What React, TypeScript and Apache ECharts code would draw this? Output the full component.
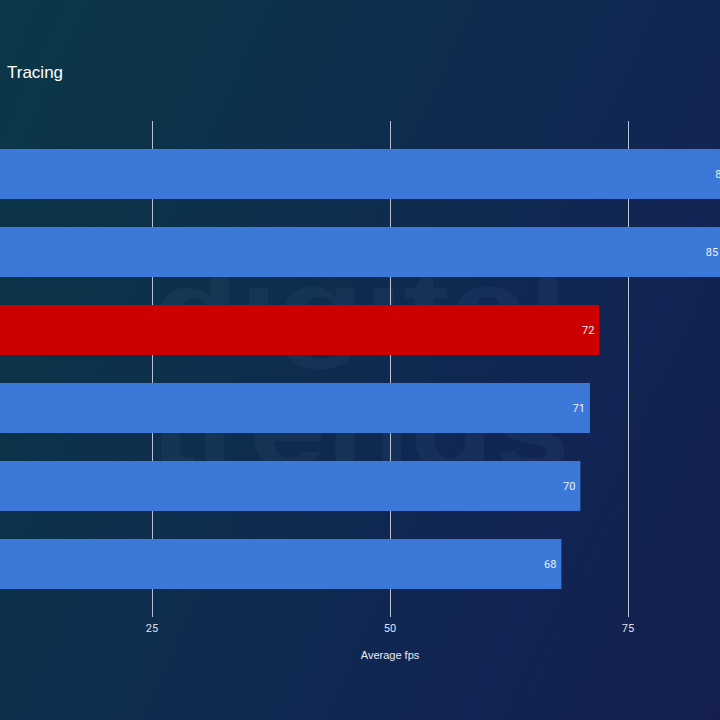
import React, { useEffect, useRef } from "react";
import * as echarts from "echarts";

// Average fps per configuration, top to bottom
const categories = ["A", "B", "C", "D", "E", "F"];
const fpsValues = [86, 85, 72, 71, 70, 68];
const highlightIndex = 2;
const xTicks = [0, 25, 50, 75, 100];

const titleText = "Tracing";
const axisTitle = "Average fps";
const watermarkLines = ["digital", "trends"];

const BLUE = "#3c78d8";
const RED = "#cc0000";

// The canvas is wider than the visible frame; it is shifted left so the
// value axis origin sits just outside the frame's left edge.
const SHIFT = 200;
const CANVAS_W = 1200;

export default function App() {
  const ref = useRef<HTMLDivElement>(null);

  useEffect(() => {
    if (!ref.current) return;
    const chart = echarts.init(ref.current, undefined, { renderer: "svg" });

    const font = "'Liberation Sans', Arial, sans-serif";
    const numFont = "Roboto, 'Liberation Sans', sans-serif";

    const gridLeft = SHIFT - 86;
    const gridWidth = 952;
    const gridRight = CANVAS_W - gridLeft - gridWidth;

    chart.setOption({
      animation: false,
      backgroundColor: "transparent",
      textStyle: { fontFamily: font },
      graphic: [
        {
          type: "text",
          x: SHIFT + 7,
          y: 64,
          z: 10,
          style: {
            text: titleText,
            fill: "#ffffff",
            font: `17px ${font}`,
          },
        },
        {
          type: "text",
          x: SHIFT + 153,
          y: 363,
          scaleX: 1.28,
          z: -1,
          silent: true,
          style: {
            text: watermarkLines[0],
            fill: "rgba(120, 160, 190, 0.07)",
            font: `bold 110px ${font}`,
            verticalAlign: "bottom",
          },
        },
        {
          type: "text",
          x: SHIFT + 150,
          y: 484,
          scaleX: 1.25,
          z: -1,
          silent: true,
          style: {
            text: watermarkLines[1],
            fill: "rgba(120, 160, 190, 0.07)",
            font: `bold 110px ${font}`,
            verticalAlign: "bottom",
          },
        },
      ],
      grid: [
        // bars
        { left: gridLeft, width: gridWidth, top: 135, height: 468 },
        // gridlines, ticks and axis title
        { left: gridLeft, right: gridRight, top: 121, bottom: 103 },
      ],
      xAxis: [
        {
          gridIndex: 0,
          type: "value",
          min: xTicks[0],
          max: xTicks[xTicks.length - 1],
          interval: 25,
          show: false,
        },
        {
          gridIndex: 1,
          type: "value",
          min: xTicks[0],
          max: xTicks[xTicks.length - 1],
          interval: 25,
          axisLine: { show: false },
          axisTick: { show: false },
          splitLine: { show: true, lineStyle: { color: "#b9c2d4", width: 1 } },
          axisLabel: {
            color: "#dde3ee",
            fontSize: 11,
            margin: 6,
            fontFamily: numFont,
            showMinLabel: false,
            showMaxLabel: false,
          },
          name: axisTitle,
          nameLocation: "middle",
          nameGap: 32,
          nameTextStyle: { color: "#e6ebf4", fontSize: 11, fontFamily: font },
        },
      ],
      yAxis: [
        { gridIndex: 0, type: "category", data: categories, inverse: true, show: false },
        { gridIndex: 1, type: "category", data: categories, inverse: true, show: false },
      ],
      series: [
        {
          type: "bar",
          xAxisIndex: 0,
          yAxisIndex: 0,
          barWidth: 50,
          z: 3,
          data: fpsValues.map((v, i) => ({
            value: v,
            itemStyle: { color: i === highlightIndex ? RED : BLUE },
          })),
          label: {
            show: true,
            position: "insideRight",
            distance: 5,
            color: "#eef2fa",
            fontSize: 11,
            fontFamily: numFont,
            formatter: (p: any) => String(p.value),
          },
        },
      ],
    });

    return () => chart.dispose();
  }, []);

  return (
    <div
      style={{
        position: "fixed",
        left: 0,
        top: 0,
        width: 720,
        height: 720,
        overflow: "hidden",
        background:
          "linear-gradient(115deg, #0b3747 0%, #0d2f4d 35%, #112553 70%, #141f4e 100%)",
      }}
    >
      <div
        ref={ref}
        style={{ position: "absolute", left: -SHIFT, top: 0, width: CANVAS_W, height: 720 }}
      />
    </div>
  );
}
